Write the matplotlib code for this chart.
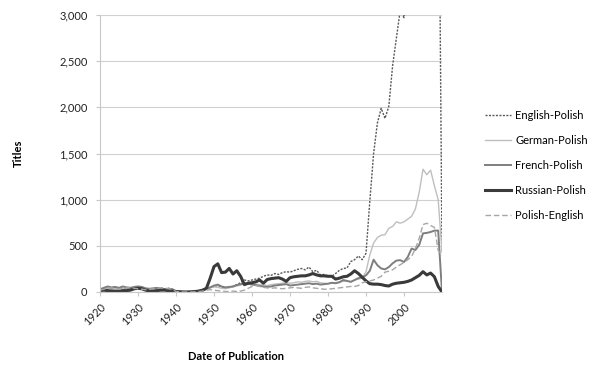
import numpy as np
import matplotlib
matplotlib.use('Agg')
import matplotlib.pyplot as plt
from matplotlib.ticker import FuncFormatter

# --------------------------------------------------
# Titles per year, 1920-2010
# --------------------------------------------------
years = list(range(1920, 2011))

english_polish = [
    20, 30, 40, 35, 50, 40, 45, 35, 40, 50,
    55, 45, 30, 25, 35, 40, 45, 35, 40, 30,
    10, 5, 3, 3, 5, 8, 15, 25, 35, 50,
    60, 70, 55, 45, 50, 60, 80, 100, 130, 120,
    130, 140, 150, 170, 185, 180, 200, 190, 210, 220,
    215, 230, 245, 255, 240, 270, 220, 235, 185, 190,
    175, 170, 200, 235, 255, 260, 330, 350, 390, 350,
    420, 980, 1500, 1830, 1990, 1880, 2010, 2450, 2750, 3050,
    2970, 3600, 4000, 4300, 4600, 4800, 5000, 5200, 5400, 5600,
    440,
]

german_polish = [
    20, 25, 35, 30, 40, 30, 35, 30, 35, 40,
    45, 35, 25, 20, 25, 30, 35, 30, 30, 25,
    8, 3, 2, 2, 3, 5, 10, 20, 30, 45,
    55, 50, 40, 35, 45, 55, 65, 75, 90, 100,
    90, 85, 80, 75, 70, 80, 85, 90, 95, 100,
    95, 100, 110, 105, 115, 120, 110, 115, 100, 95,
    90, 95, 100, 110, 115, 120, 110, 130, 140, 150,
    220, 400, 530, 590, 615, 620, 690, 710, 760, 745,
    760, 790, 820, 900, 1080, 1330, 1270, 1320, 1150, 1000,
    430,
]

french_polish = [
    30, 45, 60, 50, 55, 45, 60, 50, 45, 55,
    60, 55, 40, 35, 40, 45, 35, 30, 35, 30,
    10, 5, 3, 2, 3, 5, 10, 20, 35, 50,
    70, 80, 60, 50, 55, 60, 75, 85, 95, 90,
    80, 75, 65, 60, 55, 60, 70, 75, 80, 85,
    70, 75, 80, 85, 90, 95, 85, 90, 80, 85,
    90, 100, 95, 105, 130, 120, 110, 130, 150, 160,
    180, 230, 350, 290, 255, 245, 270, 310, 340, 345,
    325, 380, 470, 455, 510, 635, 640, 650, 665, 665,
    0,
]

russian_polish = [
    15, 20, 15, 10, 10, 10, 15, 15, 20, 35,
    40, 35, 20, 10, 10, 15, 20, 20, 15, 10,
    5, 2, 0, 0, 2, 5, 10, 20, 40, 150,
    275, 305, 210, 215, 255, 195, 230, 170, 80, 95,
    100, 110, 130, 95, 135, 145, 150, 155, 140, 115,
    155, 165, 170, 175, 175, 185, 200, 185, 175, 175,
    170, 170, 140, 150, 165, 170, 195, 230, 200, 160,
    120, 90, 85, 85, 80, 70, 65, 85, 95, 100,
    105, 115, 130, 155, 180, 220, 185, 205, 165, 60,
    0,
]

polish_english = [
    20, 30, 40, 45, 35, 30, 40, 45, 50, 40,
    35, 30, 25, 30, 35, 40, 45, 40, 35, 30,
    5, 2, 0, 0, 0, 2, 5, 10, 20, 25,
    20, 15, 10, 5, 5, 10, 5, 10, 20, 40,
    60, 70, 60, 50, 45, 40, 45, 40, 35, 40,
    45, 50, 45, 40, 50, 55, 45, 40, 35, 30,
    30, 35, 40, 45, 50, 55, 60, 60, 70, 100,
    110, 120, 130, 150, 170, 215, 225, 240, 270, 295,
    320, 350, 385, 470, 580, 730, 745, 720, 700, 450,
    400,
]

plt.rcParams['font.family'] = ['Lato', 'DejaVu Sans']

fig = plt.figure(figsize=(6, 3.72), dpi=100)
ax = fig.add_axes([100 / 600, 1 - 292 / 372, 342 / 600, 277 / 372])

ax.plot(years, english_polish, color='#595959', lw=1.0, ls=(0, (1.5, 1)), label='English-Polish')
ax.plot(years, german_polish, color='#bfbfbf', lw=1.0, label='German-Polish')
ax.plot(years, french_polish, color='#7f7f7f', lw=1.4, label='French-Polish')
ax.plot(years, russian_polish, color='#3a3a3a', lw=2.2, label='Russian-Polish')
ax.plot(years, polish_english, color='#a6a6a6', lw=1.0, ls=(0, (4, 2)), label='Polish-English')

ax.set_xlim(1920, 2010)
ax.set_ylim(0, 3000)
ax.set_yticks(range(0, 3001, 500))
ax.yaxis.set_major_formatter(FuncFormatter(lambda v, p: f'{int(v):,}'))
ax.set_xticks(range(1920, 2001, 10))
ax.set_xticklabels([str(y) for y in range(1920, 2001, 10)], rotation=45,
                   ha='right', rotation_mode='anchor')

ax.grid(True, axis='y', color='#d0d0d0', lw=0.8)
ax.set_axisbelow(True)
for side in ['top', 'right']:
    ax.spines[side].set_visible(False)
ax.spines['left'].set_color('#c8c8c8')
ax.spines['bottom'].set_color('#c8c8c8')
ax.tick_params(axis='both', colors='#c8c8c8', labelcolor='#222222', labelsize=8, length=3, width=0.8)
ax.tick_params(axis='y', pad=6)

fig.text(18 / 600, 1 - 153 / 372, 'Titles', rotation=90, fontsize=8, fontweight='bold',
         ha='center', va='center')
fig.text(236 / 600, 1 - 356 / 372, 'Date of Publication', fontsize=8, fontweight='bold',
         ha='center', va='center')

fig.legend(loc='upper left', bbox_to_anchor=(485 / 600, 1 - 110 / 372), frameon=False,
           fontsize=8, handlelength=2.3, handletextpad=0.4, labelspacing=1.25,
           borderpad=0, borderaxespad=0)

fig.savefig('out.png', dpi=100)
